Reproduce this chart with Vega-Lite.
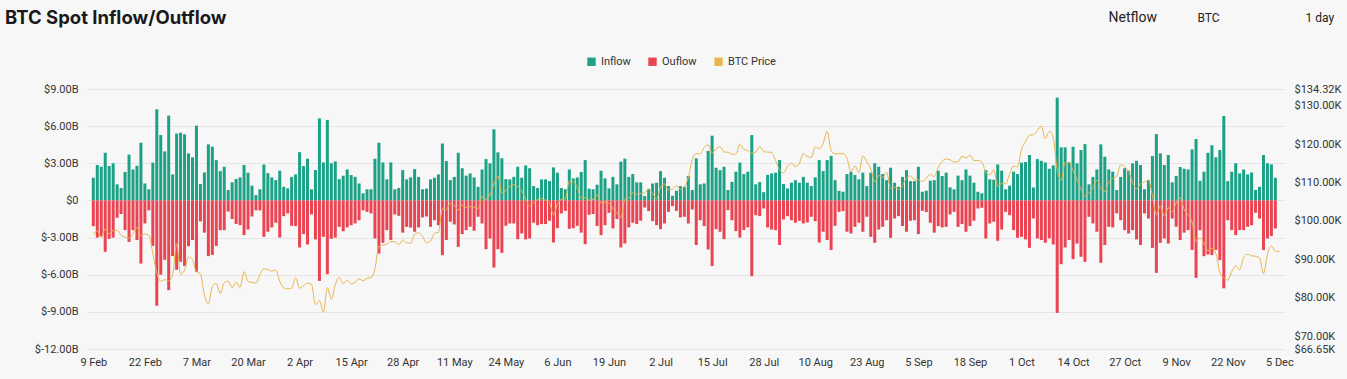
{
  "$schema": "https://vega.github.io/schema/vega-lite/v6.json",
  "width": 1198,
  "height": 260,
  "autosize": {"type": "none"},
  "padding": {"left": 87, "top": 89, "right": 62, "bottom": 30},
  "background": "#f7f7f7",
  "title": {"text": "BTC Spot Inflow/Outflow", "anchor": "start", "frame": "group", "dx": -82, "offset": -17, "font": "Inter", "fontSize": 18.5, "fontWeight": "bold", "color": "#1a1a1a"},
  "config": {
    "view": {"stroke": null},
    "axis": {"labelFont": "Roboto", "labelFontSize": 11, "labelColor": "#333333", "ticks": false, "domain": false, "gridColor": "#e6e6e6", "gridWidth": 1, "labelOverlap": false, "titleFont": "Roboto", "titleFontWeight": "normal", "titleColor": "#222222", "titleAngle": 0, "titleAlign": "left", "titleBaseline": "middle"}
  },
  "data": {"values": [
{"date":"2025-02-09","inflow":1.83,"outflow":-2.08,"price":96.5},
{"date":"2025-02-10","inflow":2.86,"outflow":-3.0,"price":97.4},
{"date":"2025-02-11","inflow":2.72,"outflow":-2.9,"price":95.7},
{"date":"2025-02-12","inflow":3.85,"outflow":-4.15,"price":97.9},
{"date":"2025-02-13","inflow":2.78,"outflow":-3.1,"price":96.6},
{"date":"2025-02-14","inflow":3.0,"outflow":-3.0,"price":97.5},
{"date":"2025-02-15","inflow":1.3,"outflow":-1.4,"price":97.6},
{"date":"2025-02-16","inflow":1.0,"outflow":-1.1,"price":96.2},
{"date":"2025-02-17","inflow":2.3,"outflow":-2.4,"price":95.8},
{"date":"2025-02-18","inflow":3.7,"outflow":-3.35,"price":95.5},
{"date":"2025-02-19","inflow":2.5,"outflow":-2.4,"price":96.6},
{"date":"2025-02-20","inflow":2.8,"outflow":-3.2,"price":98.3},
{"date":"2025-02-21","inflow":4.66,"outflow":-5.1,"price":96.1},
{"date":"2025-02-22","inflow":1.37,"outflow":-1.86,"price":96.6},
{"date":"2025-02-23","inflow":0.9,"outflow":-0.8,"price":96.3},
{"date":"2025-02-24","inflow":3.05,"outflow":-3.67,"price":91.5},
{"date":"2025-02-25","inflow":7.36,"outflow":-8.5,"price":86.5},
{"date":"2025-02-26","inflow":5.28,"outflow":-6.0,"price":84.3},
{"date":"2025-02-27","inflow":3.96,"outflow":-4.8,"price":84.7},
{"date":"2025-02-28","inflow":6.85,"outflow":-7.25,"price":84.4},
{"date":"2025-03-01","inflow":2.1,"outflow":-4.5,"price":86.0},
{"date":"2025-03-02","inflow":5.4,"outflow":-5.6,"price":94.2},
{"date":"2025-03-03","inflow":5.47,"outflow":-4.96,"price":86.1},
{"date":"2025-03-04","inflow":5.34,"outflow":-5.3,"price":87.2},
{"date":"2025-03-05","inflow":3.8,"outflow":-3.7,"price":90.6},
{"date":"2025-03-06","inflow":3.48,"outflow":-3.2,"price":89.9},
{"date":"2025-03-07","inflow":6.04,"outflow":-5.77,"price":86.7},
{"date":"2025-03-08","inflow":1.32,"outflow":-1.7,"price":86.2},
{"date":"2025-03-09","inflow":2.26,"outflow":-2.6,"price":80.7},
{"date":"2025-03-10","inflow":4.53,"outflow":-4.5,"price":78.5},
{"date":"2025-03-11","inflow":4.34,"outflow":-4.4,"price":82.9},
{"date":"2025-03-12","inflow":3.26,"outflow":-3.67,"price":83.7},
{"date":"2025-03-13","inflow":2.37,"outflow":-2.4,"price":81.1},
{"date":"2025-03-14","inflow":2.72,"outflow":-2.4,"price":83.9},
{"date":"2025-03-15","inflow":0.84,"outflow":-0.9,"price":84.3},
{"date":"2025-03-16","inflow":1.46,"outflow":-1.5,"price":82.6},
{"date":"2025-03-17","inflow":1.73,"outflow":-1.9,"price":84.0},
{"date":"2025-03-18","inflow":1.86,"outflow":-2.0,"price":82.7},
{"date":"2025-03-19","inflow":2.86,"outflow":-2.8,"price":86.8},
{"date":"2025-03-20","inflow":2.24,"outflow":-2.35,"price":84.2},
{"date":"2025-03-21","inflow":1.19,"outflow":-1.3,"price":84.0},
{"date":"2025-03-22","inflow":0.43,"outflow":-0.8,"price":83.8},
{"date":"2025-03-23","inflow":0.9,"outflow":-0.8,"price":86.0},
{"date":"2025-03-24","inflow":2.9,"outflow":-2.94,"price":87.5},
{"date":"2025-03-25","inflow":2.2,"outflow":-2.53,"price":87.4},
{"date":"2025-03-26","inflow":1.86,"outflow":-2.18,"price":86.9},
{"date":"2025-03-27","inflow":1.64,"outflow":-1.8,"price":87.2},
{"date":"2025-03-28","inflow":2.4,"outflow":-3.0,"price":84.3},
{"date":"2025-03-29","inflow":1.1,"outflow":-1.27,"price":82.6},
{"date":"2025-03-30","inflow":0.97,"outflow":-1.05,"price":82.3},
{"date":"2025-03-31","inflow":1.9,"outflow":-2.05,"price":82.5},
{"date":"2025-04-01","inflow":2.1,"outflow":-2.07,"price":85.2},
{"date":"2025-04-02","inflow":3.9,"outflow":-3.8,"price":82.5},
{"date":"2025-04-03","inflow":2.78,"outflow":-2.72,"price":83.1},
{"date":"2025-04-04","inflow":3.37,"outflow":-3.56,"price":83.8},
{"date":"2025-04-05","inflow":0.9,"outflow":-1.13,"price":83.5},
{"date":"2025-04-06","inflow":2.45,"outflow":-3.15,"price":78.2},
{"date":"2025-04-07","inflow":6.63,"outflow":-6.5,"price":79.2},
{"date":"2025-04-08","inflow":3.07,"outflow":-2.94,"price":76.3},
{"date":"2025-04-09","inflow":6.5,"outflow":-5.96,"price":82.6},
{"date":"2025-04-10","inflow":3.0,"outflow":-3.1,"price":79.6},
{"date":"2025-04-11","inflow":3.15,"outflow":-3.0,"price":83.4},
{"date":"2025-04-12","inflow":1.72,"outflow":-2.13,"price":85.3},
{"date":"2025-04-13","inflow":2.0,"outflow":-2.48,"price":83.7},
{"date":"2025-04-14","inflow":2.5,"outflow":-2.18,"price":84.5},
{"date":"2025-04-15","inflow":2.05,"outflow":-2.0,"price":83.6},
{"date":"2025-04-16","inflow":1.9,"outflow":-1.86,"price":84.0},
{"date":"2025-04-17","inflow":1.37,"outflow":-1.6,"price":84.9},
{"date":"2025-04-18","inflow":0.57,"outflow":-0.8,"price":84.4},
{"date":"2025-04-19","inflow":0.9,"outflow":-0.92,"price":85.1},
{"date":"2025-04-20","inflow":0.9,"outflow":-1.05,"price":85.2},
{"date":"2025-04-21","inflow":3.37,"outflow":-3.07,"price":87.5},
{"date":"2025-04-22","inflow":4.66,"outflow":-4.29,"price":93.4},
{"date":"2025-04-23","inflow":3.07,"outflow":-3.42,"price":93.7},
{"date":"2025-04-24","inflow":1.7,"outflow":-2.4,"price":93.9},
{"date":"2025-04-25","inflow":3.07,"outflow":-3.2,"price":94.6},
{"date":"2025-04-26","inflow":0.9,"outflow":-1.13,"price":94.6},
{"date":"2025-04-27","inflow":1.0,"outflow":-1.24,"price":93.8},
{"date":"2025-04-28","inflow":2.45,"outflow":-2.6,"price":95.0},
{"date":"2025-04-29","inflow":1.7,"outflow":-2.13,"price":94.3},
{"date":"2025-04-30","inflow":1.86,"outflow":-2.2,"price":94.2},
{"date":"2025-05-01","inflow":2.53,"outflow":-2.53,"price":96.5},
{"date":"2025-05-02","inflow":1.9,"outflow":-2.18,"price":96.9},
{"date":"2025-05-03","inflow":0.9,"outflow":-1.37,"price":95.9},
{"date":"2025-05-04","inflow":0.95,"outflow":-1.3,"price":94.3},
{"date":"2025-05-05","inflow":1.7,"outflow":-2.13,"price":94.7},
{"date":"2025-05-06","inflow":1.83,"outflow":-1.6,"price":96.8},
{"date":"2025-05-07","inflow":2.1,"outflow":-2.0,"price":97.0},
{"date":"2025-05-08","inflow":4.6,"outflow":-4.42,"price":103.2},
{"date":"2025-05-09","inflow":3.18,"outflow":-3.2,"price":102.9},
{"date":"2025-05-10","inflow":1.64,"outflow":-1.72,"price":104.6},
{"date":"2025-05-11","inflow":1.9,"outflow":-1.94,"price":104.1},
{"date":"2025-05-12","inflow":3.85,"outflow":-3.75,"price":102.8},
{"date":"2025-05-13","inflow":2.6,"outflow":-2.72,"price":104.1},
{"date":"2025-05-14","inflow":2.0,"outflow":-2.4,"price":103.5},
{"date":"2025-05-15","inflow":2.18,"outflow":-2.13,"price":103.7},
{"date":"2025-05-16","inflow":1.86,"outflow":-2.45,"price":103.5},
{"date":"2025-05-17","inflow":1.1,"outflow":-1.32,"price":103.2},
{"date":"2025-05-18","inflow":2.5,"outflow":-1.86,"price":106.4},
{"date":"2025-05-19","inflow":3.34,"outflow":-3.94,"price":105.6},
{"date":"2025-05-20","inflow":3.0,"outflow":-3.07,"price":106.8},
{"date":"2025-05-21","inflow":5.74,"outflow":-5.42,"price":109.6},
{"date":"2025-05-22","inflow":3.88,"outflow":-3.94,"price":111.7},
{"date":"2025-05-23","inflow":3.4,"outflow":-4.23,"price":107.3},
{"date":"2025-05-24","inflow":1.72,"outflow":-2.05,"price":107.8},
{"date":"2025-05-25","inflow":1.7,"outflow":-1.86,"price":109.0},
{"date":"2025-05-26","inflow":1.9,"outflow":-1.86,"price":109.4},
{"date":"2025-05-27","inflow":2.72,"outflow":-3.13,"price":108.9},
{"date":"2025-05-28","inflow":1.83,"outflow":-2.67,"price":107.8},
{"date":"2025-05-29","inflow":2.83,"outflow":-3.15,"price":105.6},
{"date":"2025-05-30","inflow":2.6,"outflow":-3.07,"price":103.9},
{"date":"2025-05-31","inflow":1.16,"outflow":-1.8,"price":104.6},
{"date":"2025-06-01","inflow":1.0,"outflow":-2.0,"price":105.6},
{"date":"2025-06-02","inflow":1.7,"outflow":-1.91,"price":105.8},
{"date":"2025-06-03","inflow":1.7,"outflow":-1.91,"price":105.4},
{"date":"2025-06-04","inflow":1.56,"outflow":-1.64,"price":104.7},
{"date":"2025-06-05","inflow":2.67,"outflow":-3.4,"price":101.5},
{"date":"2025-06-06","inflow":2.24,"outflow":-2.24,"price":104.3},
{"date":"2025-06-07","inflow":1.0,"outflow":-1.05,"price":105.6},
{"date":"2025-06-08","inflow":0.9,"outflow":-0.84,"price":105.7},
{"date":"2025-06-09","inflow":2.5,"outflow":-2.29,"price":110.3},
{"date":"2025-06-10","inflow":1.78,"outflow":-2.24,"price":110.2},
{"date":"2025-06-11","inflow":1.86,"outflow":-2.05,"price":108.7},
{"date":"2025-06-12","inflow":2.3,"outflow":-2.6,"price":105.9},
{"date":"2025-06-13","inflow":3.26,"outflow":-3.53,"price":106.0},
{"date":"2025-06-14","inflow":0.95,"outflow":-1.16,"price":105.4},
{"date":"2025-06-15","inflow":0.9,"outflow":-1.1,"price":105.6},
{"date":"2025-06-16","inflow":1.27,"outflow":-2.07,"price":106.8},
{"date":"2025-06-17","inflow":2.4,"outflow":-2.8,"price":104.6},
{"date":"2025-06-18","inflow":1.78,"outflow":-2.0,"price":104.9},
{"date":"2025-06-19","inflow":0.97,"outflow":-1.0,"price":104.6},
{"date":"2025-06-20","inflow":1.9,"outflow":-2.26,"price":103.3},
{"date":"2025-06-21","inflow":1.3,"outflow":-1.5,"price":102.1},
{"date":"2025-06-22","inflow":3.13,"outflow":-3.8,"price":100.9},
{"date":"2025-06-23","inflow":3.37,"outflow":-3.48,"price":105.6},
{"date":"2025-06-24","inflow":1.9,"outflow":-2.18,"price":106.0},
{"date":"2025-06-25","inflow":2.13,"outflow":-1.8,"price":107.3},
{"date":"2025-06-26","inflow":1.46,"outflow":-1.91,"price":106.9},
{"date":"2025-06-27","inflow":1.46,"outflow":-1.64,"price":107.1},
{"date":"2025-06-28","inflow":0.35,"outflow":-0.57,"price":107.3},
{"date":"2025-06-29","inflow":0.9,"outflow":-0.86,"price":108.4},
{"date":"2025-06-30","inflow":1.37,"outflow":-1.67,"price":107.1},
{"date":"2025-07-01","inflow":1.43,"outflow":-2.0,"price":105.7},
{"date":"2025-07-02","inflow":2.37,"outflow":-2.32,"price":108.8},
{"date":"2025-07-03","inflow":1.83,"outflow":-1.86,"price":109.6},
{"date":"2025-07-04","inflow":1.16,"outflow":-0.92,"price":108.0},
{"date":"2025-07-05","inflow":0.38,"outflow":-0.46,"price":108.2},
{"date":"2025-07-06","inflow":0.78,"outflow":-0.84,"price":109.2},
{"date":"2025-07-07","inflow":1.16,"outflow":-1.37,"price":108.2},
{"date":"2025-07-08","inflow":1.1,"outflow":-1.32,"price":108.9},
{"date":"2025-07-09","inflow":1.97,"outflow":-1.86,"price":111.3},
{"date":"2025-07-10","inflow":0.84,"outflow":-0.73,"price":115.9},
{"date":"2025-07-11","inflow":3.4,"outflow":-3.6,"price":117.5},
{"date":"2025-07-12","inflow":1.3,"outflow":-1.6,"price":117.4},
{"date":"2025-07-13","inflow":1.37,"outflow":-2.07,"price":119.1},
{"date":"2025-07-14","inflow":4.0,"outflow":-3.96,"price":119.8},
{"date":"2025-07-15","inflow":5.23,"outflow":-5.3,"price":117.7},
{"date":"2025-07-16","inflow":2.64,"outflow":-2.32,"price":118.7},
{"date":"2025-07-17","inflow":2.45,"outflow":-2.53,"price":119.3},
{"date":"2025-07-18","inflow":2.72,"outflow":-3.13,"price":117.9},
{"date":"2025-07-19","inflow":0.84,"outflow":-0.78,"price":117.9},
{"date":"2025-07-20","inflow":1.5,"outflow":-1.6,"price":117.3},
{"date":"2025-07-21","inflow":2.32,"outflow":-2.48,"price":117.4},
{"date":"2025-07-22","inflow":3.05,"outflow":-3.0,"price":119.9},
{"date":"2025-07-23","inflow":2.13,"outflow":-2.4,"price":118.6},
{"date":"2025-07-24","inflow":2.32,"outflow":-2.18,"price":118.3},
{"date":"2025-07-25","inflow":5.28,"outflow":-6.12,"price":117.6},
{"date":"2025-07-26","inflow":1.3,"outflow":-1.19,"price":117.9},
{"date":"2025-07-27","inflow":1.48,"outflow":-1.27,"price":119.4},
{"date":"2025-07-28","inflow":0.67,"outflow":-0.65,"price":118.0},
{"date":"2025-07-29","inflow":2.07,"outflow":-2.18,"price":117.9},
{"date":"2025-07-30","inflow":2.18,"outflow":-2.35,"price":117.8},
{"date":"2025-07-31","inflow":2.24,"outflow":-2.4,"price":115.7},
{"date":"2025-08-01","inflow":3.26,"outflow":-3.6,"price":113.3},
{"date":"2025-08-02","inflow":1.32,"outflow":-1.54,"price":112.5},
{"date":"2025-08-03","inflow":0.97,"outflow":-1.27,"price":114.2},
{"date":"2025-08-04","inflow":1.43,"outflow":-1.6,"price":115.0},
{"date":"2025-08-05","inflow":1.64,"outflow":-1.8,"price":114.1},
{"date":"2025-08-06","inflow":1.43,"outflow":-1.64,"price":115.0},
{"date":"2025-08-07","inflow":1.9,"outflow":-1.86,"price":117.5},
{"date":"2025-08-08","inflow":1.43,"outflow":-1.78,"price":116.7},
{"date":"2025-08-09","inflow":1.16,"outflow":-1.32,"price":116.5},
{"date":"2025-08-10","inflow":1.86,"outflow":-1.67,"price":119.3},
{"date":"2025-08-11","inflow":3.26,"outflow":-3.4,"price":118.7},
{"date":"2025-08-12","inflow":2.37,"outflow":-2.53,"price":120.2},
{"date":"2025-08-13","inflow":3.26,"outflow":-3.2,"price":123.3},
{"date":"2025-08-14","inflow":3.6,"outflow":-4.0,"price":118.4},
{"date":"2025-08-15","inflow":1.64,"outflow":-2.05,"price":117.4},
{"date":"2025-08-16","inflow":0.78,"outflow":-0.92,"price":117.5},
{"date":"2025-08-17","inflow":0.7,"outflow":-0.86,"price":117.5},
{"date":"2025-08-18","inflow":2.13,"outflow":-2.53,"price":116.3},
{"date":"2025-08-19","inflow":2.32,"outflow":-2.67,"price":112.9},
{"date":"2025-08-20","inflow":2.05,"outflow":-2.13,"price":114.3},
{"date":"2025-08-21","inflow":1.7,"outflow":-1.8,"price":112.5},
{"date":"2025-08-22","inflow":2.24,"outflow":-2.53,"price":116.9},
{"date":"2025-08-23","inflow":1.16,"outflow":-1.32,"price":115.4},
{"date":"2025-08-24","inflow":2.24,"outflow":-2.94,"price":113.5},
{"date":"2025-08-25","inflow":3.0,"outflow":-3.42,"price":110.1},
{"date":"2025-08-26","inflow":2.72,"outflow":-2.35,"price":111.8},
{"date":"2025-08-27","inflow":2.13,"outflow":-2.13,"price":111.3},
{"date":"2025-08-28","inflow":1.64,"outflow":-1.6,"price":112.6},
{"date":"2025-08-29","inflow":2.64,"outflow":-3.02,"price":108.4},
{"date":"2025-08-30","inflow":1.43,"outflow":-1.46,"price":108.8},
{"date":"2025-08-31","inflow":1.1,"outflow":-1.27,"price":108.2},
{"date":"2025-09-01","inflow":1.9,"outflow":-2.07,"price":109.2},
{"date":"2025-09-02","inflow":2.45,"outflow":-2.53,"price":111.2},
{"date":"2025-09-03","inflow":1.56,"outflow":-1.64,"price":111.7},
{"date":"2025-09-04","inflow":1.56,"outflow":-1.6,"price":110.7},
{"date":"2025-09-05","inflow":2.72,"outflow":-2.72,"price":110.7},
{"date":"2025-09-06","inflow":0.7,"outflow":-0.84,"price":110.2},
{"date":"2025-09-07","inflow":0.78,"outflow":-0.94,"price":111.1},
{"date":"2025-09-08","inflow":1.59,"outflow":-1.8,"price":112.1},
{"date":"2025-09-09","inflow":1.64,"outflow":-2.6,"price":111.5},
{"date":"2025-09-10","inflow":2.4,"outflow":-2.07,"price":113.9},
{"date":"2025-09-11","inflow":1.97,"outflow":-2.18,"price":115.5},
{"date":"2025-09-12","inflow":2.24,"outflow":-2.13,"price":116.1},
{"date":"2025-09-13","inflow":1.05,"outflow":-1.13,"price":115.9},
{"date":"2025-09-14","inflow":0.9,"outflow":-0.92,"price":115.3},
{"date":"2025-09-15","inflow":2.0,"outflow":-2.13,"price":115.4},
{"date":"2025-09-16","inflow":1.64,"outflow":-1.91,"price":116.8},
{"date":"2025-09-17","inflow":2.5,"outflow":-2.53,"price":116.4},
{"date":"2025-09-18","inflow":2.0,"outflow":-2.07,"price":117.1},
{"date":"2025-09-19","inflow":1.43,"outflow":-1.64,"price":115.7},
{"date":"2025-09-20","inflow":0.7,"outflow":-0.65,"price":115.7},
{"date":"2025-09-21","inflow":0.57,"outflow":-0.59,"price":115.3},
{"date":"2025-09-22","inflow":2.45,"outflow":-3.07,"price":112.7},
{"date":"2025-09-23","inflow":1.7,"outflow":-1.86,"price":112.0},
{"date":"2025-09-24","inflow":1.67,"outflow":-1.72,"price":113.3},
{"date":"2025-09-25","inflow":2.91,"outflow":-3.26,"price":109.0},
{"date":"2025-09-26","inflow":2.4,"outflow":-2.35,"price":109.7},
{"date":"2025-09-27","inflow":0.9,"outflow":-0.92,"price":109.7},
{"date":"2025-09-28","inflow":1.19,"outflow":-1.19,"price":112.1},
{"date":"2025-09-29","inflow":2.32,"outflow":-2.4,"price":114.3},
{"date":"2025-09-30","inflow":2.13,"outflow":-3.02,"price":114.0},
{"date":"2025-10-01","inflow":3.05,"outflow":-2.94,"price":118.6},
{"date":"2025-10-02","inflow":3.1,"outflow":-3.15,"price":120.6},
{"date":"2025-10-03","inflow":3.67,"outflow":-3.83,"price":122.3},
{"date":"2025-10-04","inflow":1.05,"outflow":-1.46,"price":122.4},
{"date":"2025-10-05","inflow":3.34,"outflow":-3.07,"price":123.5},
{"date":"2025-10-06","inflow":3.2,"outflow":-3.2,"price":124.7},
{"date":"2025-10-07","inflow":3.07,"outflow":-3.42,"price":121.4},
{"date":"2025-10-08","inflow":2.56,"outflow":-3.07,"price":123.3},
{"date":"2025-10-09","inflow":2.83,"outflow":-3.56,"price":121.7},
{"date":"2025-10-10","inflow":8.3,"outflow":-9.08,"price":113.2},
{"date":"2025-10-11","inflow":4.29,"outflow":-5.15,"price":110.6},
{"date":"2025-10-12","inflow":4.29,"outflow":-3.8,"price":115.2},
{"date":"2025-10-13","inflow":3.07,"outflow":-3.2,"price":115.3},
{"date":"2025-10-14","inflow":4.34,"outflow":-4.74,"price":113.1},
{"date":"2025-10-15","inflow":3.0,"outflow":-3.48,"price":110.8},
{"date":"2025-10-16","inflow":4.07,"outflow":-4.55,"price":108.2},
{"date":"2025-10-17","inflow":4.55,"outflow":-4.96,"price":106.5},
{"date":"2025-10-18","inflow":1.3,"outflow":-1.32,"price":107.2},
{"date":"2025-10-19","inflow":1.9,"outflow":-1.86,"price":108.7},
{"date":"2025-10-20","inflow":2.5,"outflow":-2.53,"price":110.6},
{"date":"2025-10-21","inflow":4.53,"outflow":-5.04,"price":108.5},
{"date":"2025-10-22","inflow":3.53,"outflow":-3.6,"price":107.6},
{"date":"2025-10-23","inflow":2.5,"outflow":-2.13,"price":110.1},
{"date":"2025-10-24","inflow":2.32,"outflow":-2.18,"price":111.0},
{"date":"2025-10-25","inflow":0.84,"outflow":-1.05,"price":111.6},
{"date":"2025-10-26","inflow":1.9,"outflow":-1.6,"price":114.6},
{"date":"2025-10-27","inflow":2.6,"outflow":-2.4,"price":114.1},
{"date":"2025-10-28","inflow":2.4,"outflow":-2.67,"price":112.9},
{"date":"2025-10-29","inflow":3.0,"outflow":-2.4,"price":110.1},
{"date":"2025-10-30","inflow":3.2,"outflow":-3.15,"price":108.3},
{"date":"2025-10-31","inflow":2.86,"outflow":-3.6,"price":109.6},
{"date":"2025-11-01","inflow":0.9,"outflow":-1.05,"price":110.1},
{"date":"2025-11-02","inflow":1.64,"outflow":-1.46,"price":110.6},
{"date":"2025-11-03","inflow":3.58,"outflow":-3.83,"price":106.6},
{"date":"2025-11-04","inflow":5.36,"outflow":-5.85,"price":101.5},
{"date":"2025-11-05","inflow":3.8,"outflow":-3.42,"price":103.9},
{"date":"2025-11-06","inflow":2.86,"outflow":-3.07,"price":101.3},
{"date":"2025-11-07","inflow":3.67,"outflow":-3.48,"price":103.4},
{"date":"2025-11-08","inflow":1.46,"outflow":-1.46,"price":102.3},
{"date":"2025-11-09","inflow":1.97,"outflow":-2.13,"price":104.7},
{"date":"2025-11-10","inflow":2.7,"outflow":-3.2,"price":106.0},
{"date":"2025-11-11","inflow":2.56,"outflow":-2.6,"price":103.0},
{"date":"2025-11-12","inflow":2.5,"outflow":-2.4,"price":101.6},
{"date":"2025-11-13","inflow":4.12,"outflow":-4.0,"price":99.7},
{"date":"2025-11-14","inflow":4.96,"outflow":-6.25,"price":94.6},
{"date":"2025-11-15","inflow":1.59,"outflow":-2.4,"price":95.6},
{"date":"2025-11-16","inflow":2.32,"outflow":-4.5,"price":94.2},
{"date":"2025-11-17","inflow":3.85,"outflow":-4.37,"price":92.2},
{"date":"2025-11-18","inflow":4.45,"outflow":-4.42,"price":92.9},
{"date":"2025-11-19","inflow":3.48,"outflow":-4.0,"price":91.5},
{"date":"2025-11-20","inflow":4.07,"outflow":-4.82,"price":86.6},
{"date":"2025-11-21","inflow":6.82,"outflow":-7.1,"price":85.1},
{"date":"2025-11-22","inflow":1.56,"outflow":-1.6,"price":84.6},
{"date":"2025-11-23","inflow":2.32,"outflow":-2.4,"price":86.8},
{"date":"2025-11-24","inflow":3.0,"outflow":-2.8,"price":88.3},
{"date":"2025-11-25","inflow":2.18,"outflow":-2.4,"price":87.3},
{"date":"2025-11-26","inflow":2.5,"outflow":-2.4,"price":90.5},
{"date":"2025-11-27","inflow":2.1,"outflow":-2.13,"price":91.3},
{"date":"2025-11-28","inflow":2.26,"outflow":-2.0,"price":90.9},
{"date":"2025-11-29","inflow":0.84,"outflow":-1.0,"price":90.8},
{"date":"2025-11-30","inflow":1.1,"outflow":-1.46,"price":90.4},
{"date":"2025-12-01","inflow":3.67,"outflow":-4.0,"price":86.3},
{"date":"2025-12-02","inflow":3.0,"outflow":-3.07,"price":91.3},
{"date":"2025-12-03","inflow":2.91,"outflow":-2.88,"price":93.5},
{"date":"2025-12-04","inflow":1.83,"outflow":-2.26,"price":92.1},
{"date":"2025-12-05","price":92.0}
  ]},
  "layer": [
    {
      "transform": [{"fold": ["inflow", "outflow"], "as": ["flow", "value"]}],
      "mark": {"type": "bar", "size": 3},
      "encoding": {
        "x": {
          "field": "date", "type": "temporal",
          "scale": {"type": "utc", "domain": [{"year": 2025, "month": 2, "date": 8, "hours": 16, "utc": true}, {"year": 2025, "month": 12, "date": 5, "hours": 4, "utc": true}]},
          "axis": {
            "format": "%-d %b", "labelFlush": false, "labelPadding": 7, "grid": false,
            "title": "BTC", "titleFontSize": 12, "titleX": 1110, "titleY": -332,
            "values": [
              {"year": 2025, "month": 2, "date": 9, "utc": true},
              {"year": 2025, "month": 2, "date": 22, "utc": true},
              {"year": 2025, "month": 3, "date": 7, "utc": true},
              {"year": 2025, "month": 3, "date": 20, "utc": true},
              {"year": 2025, "month": 4, "date": 2, "utc": true},
              {"year": 2025, "month": 4, "date": 15, "utc": true},
              {"year": 2025, "month": 4, "date": 28, "utc": true},
              {"year": 2025, "month": 5, "date": 11, "utc": true},
              {"year": 2025, "month": 5, "date": 24, "utc": true},
              {"year": 2025, "month": 6, "date": 6, "utc": true},
              {"year": 2025, "month": 6, "date": 19, "utc": true},
              {"year": 2025, "month": 7, "date": 2, "utc": true},
              {"year": 2025, "month": 7, "date": 15, "utc": true},
              {"year": 2025, "month": 7, "date": 28, "utc": true},
              {"year": 2025, "month": 8, "date": 10, "utc": true},
              {"year": 2025, "month": 8, "date": 23, "utc": true},
              {"year": 2025, "month": 9, "date": 5, "utc": true},
              {"year": 2025, "month": 9, "date": 18, "utc": true},
              {"year": 2025, "month": 10, "date": 1, "utc": true},
              {"year": 2025, "month": 10, "date": 14, "utc": true},
              {"year": 2025, "month": 10, "date": 27, "utc": true},
              {"year": 2025, "month": 11, "date": 9, "utc": true},
              {"year": 2025, "month": 11, "date": 22, "utc": true},
              {"year": 2025, "month": 12, "date": 5, "utc": true}
            ]
          }
        },
        "y": {
          "field": "value", "type": "quantitative", "stack": null,
          "scale": {"domain": [-12, 9], "nice": false},
          "axis": {"orient": "left", "values": [-12, -9, -6, -3, 0, 3, 6, 9], "labelPadding": 9,
            "labelExpr": "datum.value == 0 ? '$0' : datum.value < 0 ? '$-' + format(-datum.value, '.2f') + 'B' : '$' + format(datum.value, '.2f') + 'B'",
            "title": "Netflow", "titleFontSize": 14, "titleX": 1021, "titleY": -72}
        },
        "color": {
          "field": "flow", "type": "nominal",
          "scale": {"domain": ["inflow", "outflow", "price"], "range": ["#1ba185", "#ea4352", "#e8b54e"]},
          "legend": {
            "orient": "none", "legendX": 499, "legendY": -33, "direction": "horizontal", "title": null,
            "symbolType": "square", "symbolSize": 70, "symbolStrokeWidth": 0,
            "labelFont": "Roboto", "labelFontSize": 11, "labelColor": "#333333", "columnPadding": 16,
            "labelExpr": "datum.label == 'inflow' ? 'Inflow' : datum.label == 'outflow' ? 'Ouflow' : 'BTC Price'"
          }
        }
      }
    },
    {
      "mark": {"type": "line", "interpolate": "monotone", "strokeWidth": 1, "color": "#e8b54e"},
      "encoding": {
        "x": {"field": "date", "type": "temporal"},
        "y": {
          "field": "price", "type": "quantitative",
          "scale": {"domain": [66.65, 134.32], "nice": false, "zero": false},
          "axis": {"orient": "right", "values": [66.65, 70, 80, 90, 100, 110, 120, 130, 134.32], "labelPadding": 9,
            "labelExpr": "'$' + format(datum.value, '.2f') + 'K'",
            "title": "1 day", "titleFontSize": 12, "titleX": 20, "titleY": -72}
        }
      }
    }
  ],
  "resolve": {"scale": {"y": "independent"}}
}
